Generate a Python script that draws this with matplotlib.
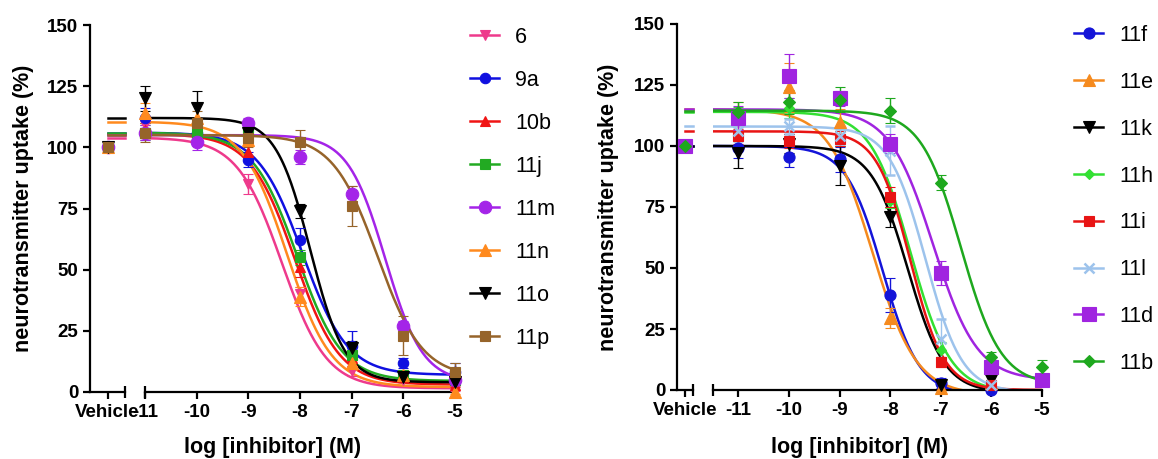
"""Dose-response curves of neurotransmitter uptake inhibition (two panels)."""

import numpy as np
import matplotlib

matplotlib.use("Agg")
import matplotlib.pyplot as plt

plt.rcParams["font.family"] = ["Liberation Sans", "DejaVu Sans"]

LOG_CONC = [-11, -10, -9, -8, -7, -6, -5]
VEHICLE = 100.0

# ---- left panel: mean uptake (%) and SEM per compound ----
LEFT_NAMES = ["6", "9a", "10b", "11j", "11m", "11n", "11o", "11p"]
LEFT_COLORS = ["#EE3A8C", "#1010E0", "#F01414", "#22AA22", "#A424E8", "#FF8A1E", "#000000", "#96642A"]
LEFT_MARKERS = ["v", "o", "^", "s", "o", "^", "v", "s"]
LEFT_SIZES = [7.5, 7.5, 7.5, 7, 9, 8, 8, 7.5]

uptake_6 = [109, 105, 85, 40, 8.5, 5, 1.5]
uptake_9a = [112, 106, 95, 62, 19, 12, 8]
uptake_10b = [107, 104, 98, 51, 14, 6, 3]
uptake_11j = [106, 106, 108, 55, 15, 7, 5]
uptake_11m = [106, 102, 110, 96, 81, 27, 5]
uptake_11n = [114, 112, 103, 39, 12, 7, 0]
uptake_11o = [120, 116, 106, 74, 18, 6, 4]
uptake_11p = [106, 110, 104, 102, 76, 23, 8]

sem_6 = [3, 3, 4, 3, 2, 1, 1]
sem_9a = [4, 3, 3, 5, 6, 2, 4]
sem_10b = [3, 3, 3, 4, 2, 1, 1]
sem_11j = [3, 3, 3, 3, 2, 1, 1]
sem_11m = [3, 3, 2, 3, 3, 2, 1]
sem_11n = [4, 6, 6, 4, 3, 2, 1]
sem_11o = [5, 7, 4, 3, 3, 2, 1]
sem_11p = [4, 5, 4, 5, 8, 8, 4]

# four-parameter logistic fit: top, bottom, logIC50, Hill slope
left_top = [104, 106, 105.5, 106, 105, 110.5, 112, 105]
left_bottom = [1.5, 7, 3, 4.5, 4, 2, 4, 6]
left_logic50 = [-8.35, -7.95, -8.1, -8.05, -6.35, -8.25, -7.8, -6.5]
left_hill = [1.0, 1.0, 1.0, 1.0, 1.2, 1.0, 1.3, 1.0]

# ---- right panel ----
RIGHT_NAMES = ["11f", "11e", "11k", "11h", "11i", "11l", "11d", "11b"]
RIGHT_COLORS = ["#1414D8", "#F58A1E", "#000000", "#33E033", "#E81414", "#9DC3EC", "#A024E0", "#1EA81E"]
RIGHT_MARKERS = ["o", "^", "v", "D", "s", "x", "s", "D"]
RIGHT_SIZES = [8, 8.5, 8, 5, 7.5, 7, 10.5, 6]

nan = np.nan
uptake_11f = [99, 95.5, 94.5, 39, 3, 0, nan]
uptake_11e = [112, 124, 110, 29.5, 1, 3, nan]
uptake_11k = [97, 101, 92, 71, 2, 4, nan]
uptake_11h = [113, 115.5, 103, 77.5, 16.5, 2, nan]
uptake_11i = [104, 102, 103, 79, 11.5, 2, nan]
uptake_11l = [106, 108, 104, 98, 21, 2, nan]
uptake_11d = [111.5, 128.5, 119.5, 101, 48, 9.5, 4]
uptake_11b = [114, 118, 119, 114.5, 85, 13.5, 9.5]

sem_11f = [4, 4, 5, 7, 2, 1, nan]
sem_11e = [6, 10, 5, 4, 1, 1, nan]
sem_11k = [6, 4, 8, 4, 2, 2, nan]
sem_11h = [3, 4, 3, 3, 3, 1, nan]
sem_11i = [3, 3, 3, 4, 2, 1, nan]
sem_11l = [4, 3, 3, 10, 8, 1, nan]
sem_11d = [5, 9, 3, 4, 5, 2, 1]
sem_11b = [4, 5, 5, 5, 3, 2, 3]

right_top = [100, 115, 100, 114, 106, 108, 115, 114.5]
right_bottom = [-2, -2, -1, -1, 0, -1, 4, 2]
right_logic50 = [-8.15, -8.35, -7.65, -7.6, -7.6, -7.3, -7.15, -6.6]
right_hill = [1.2, 1.0, 1.2, 1.1, 1.3, 1.2, 1.0, 1.1]

W, H = 1158, 459


def _box(x0, x1, ytop, ybot):
    return [x0 / W, 1 - ybot / H, (x1 - x0) / W, (ybot - ytop) / H]


def _four_pl(x, top, bottom, logic50, hill):
    return bottom + (top - bottom) / (1 + 10 ** ((x - logic50) * hill))


def _break_cap(ax, xpos):
    ax.plot([xpos, xpos], [-0.016, 0.016], transform=ax.transAxes,
            color="black", lw=1.6, clip_on=False, solid_capstyle="butt")


def _panel(fig, veh_box, main_box, xmin, names, colors, markers, sizes,
           means, sems, tops, bottoms, logic50s, hills, legend_xy, spacing, ylabel_x):
    ax_v = fig.add_axes(veh_box)
    ax_m = fig.add_axes(main_box, sharey=ax_v)

    for ax in (ax_v, ax_m):
        ax.spines["top"].set_visible(False)
        ax.spines["right"].set_visible(False)
        for side in ("left", "bottom"):
            ax.spines[side].set_linewidth(1.6)
        ax.tick_params(direction="out", length=5, width=1.6, labelsize=13.5)
    ax_m.spines["left"].set_visible(False)
    ax_m.tick_params(axis="y", left=False, labelleft=False)

    ax_v.set_xlim(-1, 1)
    ax_v.set_xticks([0])
    ax_v.set_xticklabels(["Vehicle"], fontweight="bold")
    ax_v.set_ylim(0, 150)
    ax_v.set_yticks([0, 25, 50, 75, 100, 125, 150])
    ax_v.set_yticklabels(["0", "25", "50", "75", "100", "125", "150"], fontweight="bold")
    ax_v.set_ylabel("neurotransmitter uptake (%)", fontsize=15.5, fontweight="bold")
    ax_v.yaxis.set_label_coords(ylabel_x, 0.5)

    ax_m.set_xlim(xmin, -5)
    ax_m.set_xticks(LOG_CONC)
    ax_m.set_xticklabels([str(v) for v in LOG_CONC], fontweight="bold")

    _break_cap(ax_v, 1.0)
    _break_cap(ax_m, 0.0)

    xs = np.linspace(xmin, -5, 300)
    handles = []
    for i, name in enumerate(names):
        c = colors[i]
        mk = markers[i]
        fill = dict(markersize=sizes[i], markeredgewidth=1.8 if mk == "x" else 0.8,
                    markeredgecolor=c, markerfacecolor=c)
        ax_v.plot([0, 1], [tops[i], tops[i]], color=c, lw=1.8, clip_on=False, zorder=2)
        ax_v.errorbar([0], [VEHICLE], yerr=[1.5], fmt=mk, color=c, ecolor=c,
                      elinewidth=1, capsize=3, clip_on=False, zorder=3, **fill)
        ax_m.plot(xs, _four_pl(xs, tops[i], bottoms[i], logic50s[i], hills[i]),
                  color=c, lw=1.8, zorder=2)
        eb = ax_m.errorbar(LOG_CONC, means[i], yerr=sems[i], fmt=mk, color=c, ecolor=c,
                           elinewidth=1, capsize=3.5, zorder=3, **fill)
        for art in eb.get_children():
            art.set_clip_on(False)
        h, = ax_m.plot([], [], color=c, lw=1.8, marker=mk, **fill)
        handles.append(h)

    fig.legend(handles, names, loc="upper left", bbox_to_anchor=legend_xy,
               frameon=False, fontsize=15.5, handlelength=1.35, handletextpad=0.75,
               labelspacing=spacing, borderpad=0, borderaxespad=0)

    # x label centred under the whole panel
    x0 = veh_box[0]
    x1 = main_box[0] + main_box[2]
    fig.text((x0 + x1) / 2, 0.003, "log [inhibitor] (M)", ha="center", va="bottom",
             fontsize=15.5, fontweight="bold")
    return ax_v, ax_m


def main() -> None:
    fig = plt.figure(figsize=(W / 100, H / 100), dpi=100)

    left_means = [uptake_6, uptake_9a, uptake_10b, uptake_11j,
                  uptake_11m, uptake_11n, uptake_11o, uptake_11p]
    left_sems = [sem_6, sem_9a, sem_10b, sem_11j, sem_11m, sem_11n, sem_11o, sem_11p]
    _panel(fig, _box(90, 125, 25, 392), _box(145, 455, 25, 392), -11,
           LEFT_NAMES, LEFT_COLORS, LEFT_MARKERS, LEFT_SIZES,
           left_means, left_sems, left_top, left_bottom, left_logic50, left_hill,
           (470 / W, 1 - 27 / H), 1.02, -1.6)

    right_means = [uptake_11f, uptake_11e, uptake_11k, uptake_11h,
                   uptake_11i, uptake_11l, uptake_11d, uptake_11b]
    right_sems = [sem_11f, sem_11e, sem_11k, sem_11h, sem_11i, sem_11l, sem_11d, sem_11b]
    _panel(fig, _box(677, 693, 24, 390), _box(713, 1042, 24, 390), -11.5,
           RIGHT_NAMES, RIGHT_COLORS, RIGHT_MARKERS, RIGHT_SIZES,
           right_means, right_sems, right_top, right_bottom, right_logic50, right_hill,
           (1074 / W, 1 - 25 / H), 1.2, -3.6)

    fig.savefig("out.png", dpi=100)
    plt.close(fig)


if __name__ == "__main__":
    main()
